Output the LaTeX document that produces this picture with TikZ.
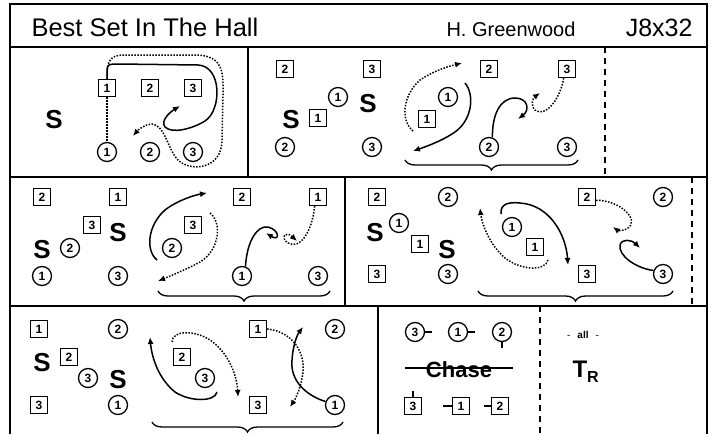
\documentclass[tikz,border=0pt]{standalone}
\usepackage{fontspec}
\setmainfont{Liberation Sans}
\usetikzlibrary{arrows.meta,decorations.pathreplacing}

\tikzset{
  man/.style={draw, rectangle, line width=1.3pt, minimum size=17pt, inner sep=0pt, font=\bfseries\fontsize{12}{12}\selectfont},
  lady/.style={draw, circle, line width=1.3pt, minimum size=19pt, inner sep=0pt, font=\bfseries\fontsize{12}{12}\selectfont},
  bigS/.style={font=\bfseries\fontsize{26}{26}\selectfont, inner sep=0pt},
  track/.style={line width=1.5pt, -{Latex[length=7pt,width=6pt]}},
  dtrack/.style={track, dash pattern=on 1.5pt off 1.5pt},
  brc/.style={decorate, decoration={brace, mirror, amplitude=10pt}, line width=1.3pt},
  boxline/.style={line width=1.7pt},
  cutline/.style={line width=1.5pt, dash pattern=on 6pt off 5pt},
}

\begin{document}
\begin{tikzpicture}[x=1pt, y=-1pt]
  \useasboundingbox (0,0) rectangle (712,434);

  \draw[boxline] (10,434) -- (10,4) -- (707,4) -- (707,434);
  \draw[boxline] (10,47) -- (707,47);
  \draw[boxline] (10,177) -- (707,177);
  \draw[boxline] (10,306) -- (707,306);
  \draw[boxline] (248,47) -- (248,177);
  \draw[boxline] (345,177) -- (345,306);
  \draw[boxline] (378,306) -- (378,434);
  \draw[cutline] (605,47) -- (605,177);
  \draw[cutline] (692,177) -- (692,306);
  \draw[cutline] (540,306) -- (540,434);

  \node[anchor=base west, font=\fontsize{25.5}{25.5}\selectfont] (title) at (28,36) {Best Set In The Hall};
  \node[anchor=base west, font=\fontsize{20}{20}\selectfont] (deviser) at (443,36) {H. Greenwood};
  \node[anchor=base east, font=\fontsize{25}{25}\selectfont] (kind) at (696,36) {J8x32};

  % bar 1-4
  \node[bigS] (aS) at (54,120) {S};
  \node[man] (aM1) at (107,88) {1};
  \node[man] (aM2) at (150,88) {2};
  \node[man] (aM3) at (193,88) {3};
  \node[lady] (aL1) at (107,152) {1};
  \node[lady] (aL2) at (150,152) {2};
  \node[lady] (aL3) at (193,152) {3};
  \draw[line width=1.5pt, dash pattern=on 1.5pt off 1.5pt] (aM1.south) -- (aL1.north);
  \draw[track] (aM1.north) -- (107,70) .. controls (107,64) and (110,64) .. (118,64)
    -- (198,65) .. controls (222,66) and (222,110) .. (205,121)
    .. controls (192,129) and (172,134) .. (165,127) .. controls (160,121) and (170,112) .. (180,106);
  \draw[dtrack] (aM1.north) .. controls (107,60) and (110,55) .. (125,55) -- (195,55)
    .. controls (225,55) and (223,75) .. (223,95) -- (222,140)
    .. controls (222,170) and (190,172) .. (178,160) .. controls (168,150) and (165,125) .. (152,124)
    .. controls (145,124) and (138,130) .. (133,136);

  % bar 5-8
  \node[man] (bM2) at (285,69) {2};
  \node[man] (bM3) at (372,69) {3};
  \node[lady] (bL1) at (338,97) {1};
  \node[bigS] (bS1) at (368,104) {S};
  \node[bigS] (bS2) at (291,120) {S};
  \node[man] (bM1) at (318,118) {1};
  \node[lady] (bL2) at (285,147) {2};
  \node[lady] (bL3) at (372,147) {3};

  \node[man] (cM2) at (489,69) {2};
  \node[man] (cM3) at (567,69) {3};
  \node[lady] (cL1) at (448,97) {1};
  \node[man] (cM1) at (427,119) {1};
  \node[lady] (cL2) at (489,147) {2};
  \node[lady] (cL3) at (567,147) {3};
  \draw[dtrack] (413,131) .. controls (400,120) and (403,95) .. (420,80) .. controls (435,70) and (450,66) .. (462,63);
  \draw[track] (465,83) .. controls (475,95) and (472,120) .. (455,132) .. controls (442,141) and (425,147) .. (413,151);
  \draw[track] (cL2.70) .. controls (492,115) and (500,98) .. (515,98) .. controls (528,98) and (530,110) .. (518,119);
  \draw[dtrack] (cM3.-110) .. controls (560,100) and (545,118) .. (535,110) .. controls (530,105) and (533,98) .. (540,93);
  \draw[brc] (405,160) -- (578,160);

  % bar 9-12
  \node[man] (dM2) at (42,197) {2};
  \node[man] (dM1) at (118,197) {1};
  \node[man] (dM3) at (92,225) {3};
  \node[bigS] (dS1) at (118,233) {S};
  \node[bigS] (dS2) at (42,250) {S};
  \node[lady] (dL2) at (70,248) {2};
  \node[lady] (dL1) at (42,276) {1};
  \node[lady] (dL3) at (118,276) {3};

  \node[man] (eM2) at (242,197) {2};
  \node[man] (eM1) at (318,197) {1};
  \node[man] (eM3) at (193,225) {3};
  \node[lady] (eL2) at (172,248) {2};
  \node[lady] (eL1) at (242,276) {1};
  \node[lady] (eL3) at (318,276) {3};
  \draw[track] (157,260) .. controls (145,250) and (148,225) .. (165,210) .. controls (178,200) and (195,195) .. (207,193);
  \draw[dtrack] (210,213) .. controls (222,222) and (220,250) .. (200,262) .. controls (185,270) and (168,277) .. (158,281);
  \draw[track] (eL1.70) .. controls (247,240) and (258,225) .. (268,227) .. controls (280,230) and (280,242) .. (266,233);
  \draw[dtrack] (eM1.-110) .. controls (312,232) and (300,250) .. (288,243) .. controls (280,238) and (285,230) .. (297,241);
  \draw[brc] (158,291) -- (330,291);

  % bar 13-16
  \node[man] (fM2) at (377,197) {2};
  \node[lady] (fL2) at (448,197) {2};
  \node[lady] (fL1) at (399,223) {1};
  \node[bigS] (fS1) at (375,233) {S};
  \node[man] (fM1) at (420,244) {1};
  \node[bigS] (fS2) at (447,250) {S};
  \node[man] (fM3) at (377,274) {3};
  \node[lady] (fL3) at (448,274) {3};

  \node[man] (gM2) at (587,197) {2};
  \node[lady] (gL2) at (663,197) {2};
  \node[lady] (gL1) at (512,227) {1};
  \node[man] (gM1) at (535,247) {1};
  \node[man] (gM3) at (587,274) {3};
  \node[lady] (gL3) at (663,274) {3};
  \draw[dtrack] (548,260) .. controls (545,272) and (520,270) .. (505,258) .. controls (490,245) and (482,225) .. (480,208);
  \draw[track] (501,214) .. controls (500,203) and (510,202) .. (520,203) .. controls (550,205) and (566,235) .. (568,265);
  \draw[dtrack] (gM2.-20) .. controls (620,200) and (640,220) .. (628,228) .. controls (622,232) and (617,230) .. (613,227);
  \draw[track] (gL3.160) .. controls (635,268) and (618,255) .. (620,245) .. controls (622,238) and (632,240) .. (640,248);
  \draw[brc] (478,291) -- (673,291);

  % bar 17-20
  \node[man] (hM1) at (39,329) {1};
  \node[lady] (hL2) at (118,329) {2};
  \node[man] (hM2) at (69,357) {2};
  \node[bigS] (hS1) at (42,363) {S};
  \node[lady] (hL3) at (88,378) {3};
  \node[bigS] (hS2) at (118,380) {S};
  \node[man] (hM3) at (39,405) {3};
  \node[lady] (hL1) at (118,405) {1};

  \node[man] (iM2) at (182,357) {2};
  \node[lady] (iL3) at (205,378) {3};
  \node[man] (iM1) at (258,329) {1};
  \node[lady] (iL2) at (335,329) {2};
  \node[man] (iM3) at (258,405) {3};
  \node[lady] (iL1) at (335,405) {1};
  \draw[track] (217,392) .. controls (215,402) and (190,402) .. (175,392) .. controls (160,380) and (152,360) .. (150,337);
  \draw[dtrack] (172,342) .. controls (172,330) and (195,330) .. (210,340) .. controls (228,352) and (237,375) .. (238,397);
  \draw[dtrack] (iM1.east) .. controls (295,332) and (305,355) .. (303,372) .. controls (301,388) and (296,398) .. (290,407);
  \draw[track] (iL1.160) .. controls (305,395) and (290,380) .. (292,360) .. controls (293,345) and (297,335) .. (303,327);
  \draw[brc] (152,422) -- (343,422);

  % chase, turn
  \node[lady] (kL3) at (415,332) {3};
  \node[lady] (kL1) at (458,332) {1};
  \node[lady] (kL2) at (502,332) {2};
  \draw[line width=1.3pt] (kL3.east) -- ++(7,0);
  \draw[line width=1.3pt] (kL1.east) -- ++(7,0);
  \draw[line width=1.3pt] (kL2.south) -- ++(0,6);
  \node[font=\bfseries\fontsize{22}{22}\selectfont] (chase) at (459,370) {Chase};
  \draw[line width=1.4pt] (405,368) -- (513,368);
  \node[man] (kM3) at (413,406) {3};
  \node[man] (kM1) at (461,406) {1};
  \node[man] (kM2) at (500,406) {2};
  \draw[line width=1.3pt] (kM3.north) -- ++(0,-6);
  \draw[line width=1.3pt] (kM1.west) -- ++(-9,0);
  \draw[line width=1.3pt] (kM2.west) -- ++(-7,0);
  \node[font=\fontsize{10}{10}\selectfont] (all) at (583,335) {-\hspace{7pt}\textbf{all}\hspace{7pt}-};
  \node[anchor=base west, font=\bfseries\fontsize{24}{24}\selectfont] (turn) at (569,377) {T\raisebox{-5pt}{\fontsize{16}{16}\selectfont R}};
\end{tikzpicture}
\end{document}
